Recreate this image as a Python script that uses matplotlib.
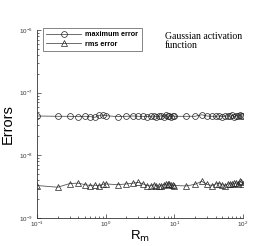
import matplotlib
matplotlib.use('Agg')
import matplotlib.pyplot as plt
import numpy as np

# R_m sample points
rm = [0.1, 0.2, 0.3, 0.4, 0.5, 0.6, 0.7, 0.8, 0.9, 1.0,
      1.5, 2.0, 2.5, 3.0, 3.5, 4.0, 4.5, 5.0, 5.5, 6.0, 6.5, 7.0, 7.5, 8.0, 8.5, 9.0, 9.5, 10.0,
      15, 20, 25, 30, 35, 40, 45, 50, 55, 60, 65, 70, 75, 80, 85, 90, 95, 100]

max_err = [4.25, 4.2, 4.2, 4.15, 4.2, 4.15, 4.05, 4.35, 4.4, 4.3,
           4.15, 4.2, 4.25, 4.2, 4.2, 4.15, 4.2, 4.25, 4.1, 4.2, 4.3, 4.15, 4.35, 4.2, 4.3, 4.15, 4.25, 4.2,
           4.2, 4.2, 4.45, 4.25, 4.2, 4.2, 4.25, 4.15, 4.2, 4.3, 4.2, 4.35, 4.15, 4.3, 4.25, 4.35, 4.2, 4.25]
max_err = [v * 1e-8 for v in max_err]

rms_err = [3.3, 3.1, 3.55, 3.6, 3.4, 3.3, 3.35, 3.25, 3.45, 3.5,
           3.4, 3.5, 3.6, 3.7, 3.5, 3.3, 3.25, 3.4, 3.3, 3.2, 3.3, 3.4, 3.5, 3.45, 3.5, 3.4, 3.35, 3.3,
           3.25, 3.45, 3.85, 3.45, 3.3, 3.5, 3.55, 3.4, 3.3, 3.5, 3.55, 3.45, 3.6, 3.65, 3.5, 3.9, 3.7, 3.45]
rms_err = [v * 1e-9 for v in rms_err]

plt.rcParams['font.family'] = ['Liberation Sans', 'DejaVu Sans']

fig = plt.figure(figsize=(2.77, 2.46), dpi=100)
ax = fig.add_axes([0.1336, 0.1138, 0.7436, 0.764])

ax.plot(rm, max_err, color='#555555', lw=0.6, marker='o', ms=4.2,
        mfc='none', mec='#222222', mew=0.5, label='maximum error')
ax.plot(rm, rms_err, color='#555555', lw=0.6, marker='^', ms=4.5,
        mfc='none', mec='#222222', mew=0.5, label='rms error')

ax.set_xscale('log')
ax.set_yscale('log')
ax.set_xlim(0.1, 100)
ax.set_ylim(1e-9, 1e-6)

for s in ['top', 'right']:
    ax.spines[s].set_visible(False)
for s in ['left', 'bottom']:
    ax.spines[s].set_linewidth(0.6)
    ax.spines[s].set_color('#333333')

ax.tick_params(which='both', direction='in', labelsize=4.5, width=0.5, colors='#333333')
ax.tick_params(which='major', length=3)
ax.tick_params(axis='x', which='major', pad=1.5)
ax.tick_params(axis='y', which='major', pad=3)
ax.tick_params(which='minor', length=1.5)

ax.set_xlabel(r'R$_{\rm m}$', fontsize=9.5, labelpad=-0.5)
ax.set_ylabel('Errors', fontsize=10.5, labelpad=3)

leg = ax.legend(loc='upper left', bbox_to_anchor=(0.03, 1.01), numpoints=1,
                prop={'weight': 'bold', 'size': 5.2}, handlelength=4.8,
                fancybox=False, framealpha=1, borderpad=0.45, labelspacing=0.3,
                handletextpad=0.6, borderaxespad=0)
leg.get_frame().set_edgecolor('#555555')
leg.get_frame().set_linewidth(0.5)

ax.text(0.62, 0.99, 'Gaussian activation\nfunction', transform=ax.transAxes,
        family='Liberation Serif', fontsize=7, va='top', ha='left', linespacing=0.95)

fig.savefig('out.png', dpi=100)
